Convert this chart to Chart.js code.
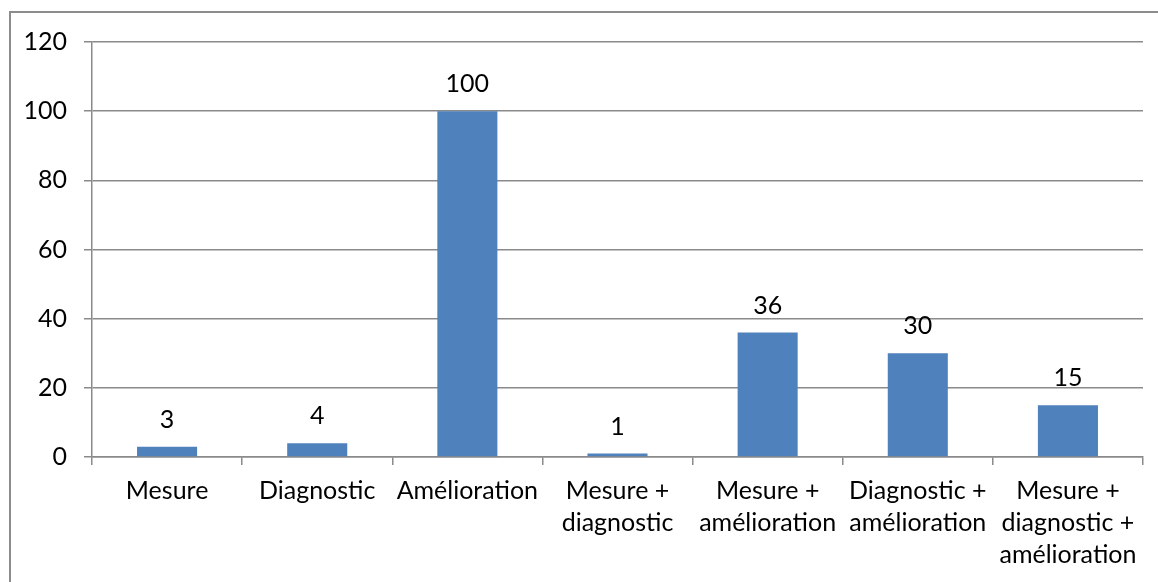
<!DOCTYPE html>
<html lang="fr">
<head>
<meta charset="utf-8">
<title>Répartition des actions</title>
<script src="https://cdn.jsdelivr.net/npm/chart.js@4.4.1/dist/chart.umd.min.js"></script>
<style>
  html, body { margin: 0; padding: 0; background: #ffffff; overflow: hidden; }
  #wrap { position: relative; width: 1158px; height: 582px; }
</style>
</head>
<body>
<div id="wrap"><canvas id="chart" width="1158" height="582"></canvas></div>
<script>
// Catégories d'actions (libellés sur plusieurs lignes)
const categories = [
  ["Mesure"],
  ["Diagnostic"],
  ["Amélioration"],
  ["Mesure +", "diagnostic"],
  ["Mesure +", "amélioration"],
  ["Diagnostic +", "amélioration"],
  ["Mesure +", "diagnostic +", "amélioration"]
];
// Nombre d'actions par catégorie
const counts = [3, 4, 100, 1, 36, 30, 15];
// Graduations de l'axe vertical
const yMin = 0;
const yMax = 120;
const yStep = 20;

const FONT = "Lato, 'Open Sans', sans-serif";
const FONT_SIZE = 25;
const GRID = "#8a8a8a";
const BAR = "#4F81BD";

// Cadre gris autour du graphique
const frame = {
  id: "frame",
  beforeDraw(chart) {
    const ctx = chart.ctx;
    ctx.save();
    ctx.strokeStyle = "#8c8c8c";
    ctx.lineWidth = 2;
    ctx.beginPath();
    ctx.moveTo(10, chart.height + 5);
    ctx.lineTo(10, 12);
    ctx.lineTo(chart.width + 5, 12);
    ctx.stroke();
    ctx.restore();
  }
};

// Valeurs affichées au-dessus des barres
const valueLabels = {
  id: "valueLabels",
  afterDatasetsDraw(chart) {
    const ctx = chart.ctx;
    const meta = chart.getDatasetMeta(0);
    const data = chart.data.datasets[0].data;
    ctx.save();
    ctx.font = FONT_SIZE + "px " + FONT;
    ctx.fillStyle = "#000000";
    ctx.textAlign = "center";
    ctx.textBaseline = "alphabetic";
    meta.data.forEach((bar, i) => {
      ctx.fillText(String(data[i]), bar.x, bar.y - 19);
    });
    ctx.restore();
  }
};

new Chart(document.getElementById("chart"), {
  type: "bar",
  data: {
    labels: categories,
    datasets: [{
      data: counts,
      backgroundColor: BAR,
      borderWidth: 0,
      barPercentage: 0.4,
      categoryPercentage: 1.0
    }]
  },
  options: {
    responsive: false,
    animation: false,
    devicePixelRatio: 1,
    layout: { padding: { top: 42, right: 15, left: 0, bottom: 0 } },
    plugins: {
      legend: { display: false },
      tooltip: { enabled: false }
    },
    scales: {
      x: {
        offset: true,
        afterFit(scale) { scale.height = 125; },
        grid: {
          display: true,
          drawOnChartArea: false,
          drawTicks: true,
          tickLength: 8,
          color: GRID,
          lineWidth: 1.5,
          offset: true
        },
        border: { display: true, color: GRID, width: 1.5 },
        ticks: {
          color: "#000000",
          padding: 10,
          maxRotation: 0,
          autoSkip: false,
          font: { family: FONT, size: FONT_SIZE, lineHeight: 1.28 }
        }
      },
      y: {
        min: yMin,
        max: yMax,
        afterFit(scale) { scale.width = 92; },
        grid: {
          display: true,
          drawOnChartArea: true,
          drawTicks: true,
          tickLength: 8,
          color: GRID,
          lineWidth: 1.5
        },
        border: { display: true, color: GRID, width: 1.5 },
        ticks: {
          stepSize: yStep,
          color: "#000000",
          padding: 17,
          font: { family: FONT, size: FONT_SIZE }
        }
      }
    }
  },
  plugins: [frame, valueLabels]
});
</script>
</body>
</html>
